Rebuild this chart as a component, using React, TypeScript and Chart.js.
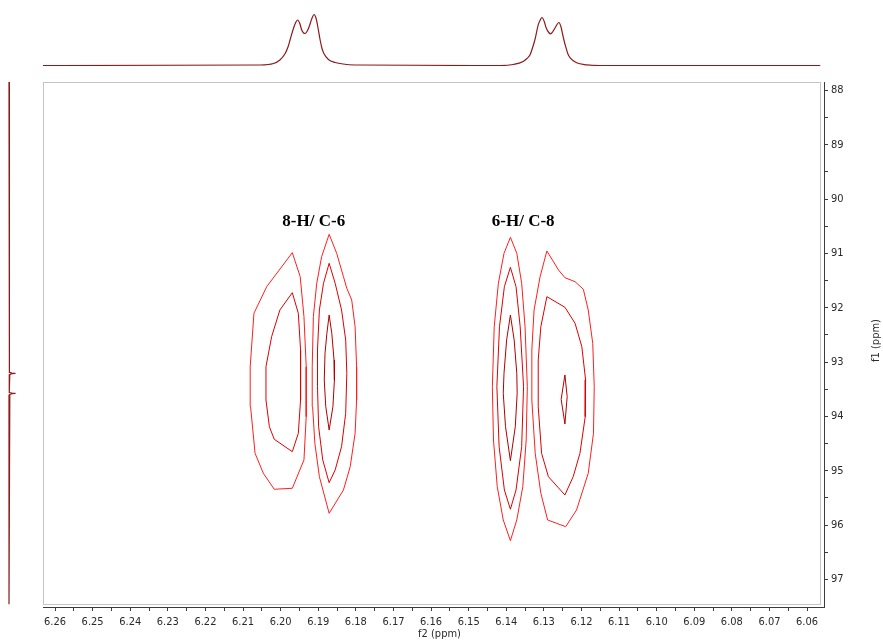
import React, { useEffect, useRef } from 'react';
import { Chart, registerables } from 'chart.js';

Chart.register(...registerables);

// ---- axis ranges (ppm) ----
const F2_MIN = 6.0555;
const F2_MAX = 6.2632;
const F1_MIN = 87.844;
const F1_MAX = 97.507;

// ---- tick labels ----
const xTickLabels = ['6.26', '6.25', '6.24', '6.23', '6.22', '6.21', '6.20', '6.19', '6.18', '6.17', '6.16', '6.15', '6.14', '6.13', '6.12', '6.11', '6.10', '6.09', '6.08', '6.07', '6.06'];
const yTickLabels = ['88', '89', '90', '91', '92', '93', '94', '95', '96', '97'];

// ---- axis titles ----
const xAxisTitle = 'f2 (ppm)';
const yAxisTitle = 'f1 (ppm)';

// ---- peak annotations ----
const annotationText = ['8-H/ C-6', '6-H/ C-8'];
const annotationF2 = [6.1912, 6.1355];
const annotationF1 = [90.42, 90.42];

// ---- 1H projection (top) ----
const topF2 = [6.2632, 6.2055, 6.2019, 6.2002, 6.1988, 6.198, 6.1975, 6.1966, 6.196, 6.1955, 6.1949, 6.1944, 6.1939, 6.1935, 6.193, 6.1924, 6.1917, 6.1911, 6.1906, 6.1902, 6.1895, 6.189, 6.1885, 6.1873, 6.1855, 6.1824, 6.1789,
  6.1416, 6.1381, 6.1355, 6.1345, 6.1337, 6.1329, 6.1323, 6.1315, 6.1309, 6.1305, 6.1299, 6.1294, 6.1287, 6.1282, 6.1276, 6.127, 6.1265, 6.126, 6.1254, 6.125, 6.1245, 6.1241, 6.1236, 6.123, 6.1213, 6.1186, 6.1151, 6.0565];
const topIntensity = [0, 0.5, 2, 5.5, 12, 19, 25.5, 37, 43, 45.5, 42, 35.5, 32.5, 32, 34, 39, 47, 51, 47.5, 40.5, 25.5, 17, 12, 6, 3, 1, 0.5,
  0, 1, 4, 7, 10.5, 19, 27, 40.7, 46, 48, 44, 37.7, 33, 31.7, 34, 37.7, 41, 43, 38, 31, 23, 17.7, 11.5, 7.7, 2.7, 0.7, 0, 0];

// ---- 13C projection (left) ----
const leftF1 = [87.844, 93.15, 93.19, 93.2, 93.206, 93.212, 93.225, 93.26, 93.52, 93.56, 93.57, 93.576, 93.582, 93.595, 93.63, 97.455];
const leftIntensity = [0, 0, 0.8, 3, 6.5, 3, 0.8, 0, 0, 0.8, 3, 6.5, 3, 0.8, 0, 0];

// ---- contours: 8-H / C-6 ----
const c1F2 = [6.1969, 6.1948, 6.1938, 6.1932, 6.1932, 6.1938, 6.1969, 6.2017, 6.2046, 6.2068, 6.208, 6.2081, 6.2071, 6.2037];
const c1F1 = [90.985, 91.427, 92.163, 93.084, 94.004, 94.801, 95.322, 95.34, 95.046, 94.678, 93.82, 93.084, 92.101, 91.611];
const c2F2 = [6.1969, 6.1953, 6.1947, 6.1947, 6.1953, 6.1969, 6.2017, 6.203, 6.2039, 6.2039, 6.2024, 6.2002];
const c2F1 = [91.722, 92.101, 92.776, 93.697, 94.31, 94.648, 94.42, 94.188, 93.697, 93.084, 92.532, 92.04];
const c3F2 = [6.1871, 6.1851, 6.1833, 6.1824, 6.1811, 6.1802, 6.1798, 6.1798, 6.1802, 6.1815, 6.1833, 6.1871, 6.1897, 6.1909, 6.1915, 6.1916, 6.1913, 6.1904, 6.1891];
const c3F1 = [90.647, 90.997, 91.427, 91.641, 91.856, 92.348, 93.084, 93.697, 94.31, 94.924, 95.353, 95.782, 95.108, 94.494, 93.82, 93.084, 92.163, 91.549, 91.059];
const c4F2 = [6.1871, 6.1855, 6.1838, 6.1827, 6.1824, 6.1827, 6.1838, 6.1855, 6.1871, 6.1888, 6.1899, 6.1902, 6.1902, 6.1897, 6.1886];
const c4F1 = [91.181, 91.549, 92.04, 92.592, 93.205, 93.941, 94.556, 94.985, 95.219, 94.801, 94.188, 93.452, 92.776, 92.04, 91.549];
const c5F2 = [6.1871, 6.1864, 6.1858, 6.1857, 6.1861, 6.1871, 6.188, 6.1884, 6.1882, 6.1877];
const c5F1 = [92.132, 92.469, 92.96, 93.329, 93.82, 94.249, 93.82, 93.329, 92.837, 92.469];

// ---- contours: 6-H / C-8 ----
const c6F2 = [6.1389, 6.1372, 6.1359, 6.135, 6.1344, 6.1347, 6.1356, 6.1372, 6.1389, 6.1408, 6.1424, 6.1434, 6.1437, 6.1432, 6.1421, 6.1406];
const c6F1 = [90.702, 90.997, 91.549, 92.348, 93.452, 94.433, 95.292, 95.905, 96.286, 95.905, 95.292, 94.433, 93.452, 92.348, 91.549, 90.997];
const c7F2 = [6.1389, 6.1374, 6.1363, 6.1354, 6.1359, 6.1374, 6.1389, 6.1405, 6.1419, 6.1425, 6.1418, 6.1405];
const c7F1 = [91.254, 91.611, 92.348, 93.452, 94.556, 95.353, 95.708, 95.353, 94.556, 93.452, 92.348, 91.611];
const c8F2 = [6.1389, 6.1379, 6.1372, 6.1371, 6.1376, 6.1389, 6.1402, 6.1408, 6.1406, 6.1399];
const c8F1 = [92.132, 92.592, 93.205, 93.573, 94.188, 94.814, 94.188, 93.573, 93.205, 92.592];
const c9F2 = [6.1292, 6.1261, 6.1244, 6.1217, 6.1195, 6.1182, 6.117, 6.1166, 6.1168, 6.1182, 6.1213, 6.1242, 6.129, 6.1308, 6.1323, 6.1332, 6.1332, 6.1326, 6.131];
const c9F1 = [90.954, 91.304, 91.446, 91.519, 91.659, 92.04, 92.653, 93.452, 94.31, 95.046, 95.721, 96.029, 95.905, 95.414, 94.678, 93.697, 92.776, 92.04, 91.427];
const c10F2 = [6.1292, 6.1244, 6.1217, 6.1199, 6.1189, 6.119, 6.1204, 6.1222, 6.1244, 6.1288, 6.1306, 6.1315, 6.1315, 6.1308];
const c10F1 = [91.795, 91.99, 92.285, 92.716, 93.329, 94.004, 94.678, 95.108, 95.445, 95.108, 94.678, 93.82, 92.96, 92.348];
const c11F2 = [6.1244, 6.1238, 6.1244, 6.1254];
const c11F1 = [93.236, 93.636, 94.138, 93.684];

const LEVEL_COLORS = ['#ff1e1e', '#dc0000', '#b00000'];
const contourTable = [
  { f2: c1F2, f1: c1F1, level: 0 },
  { f2: c2F2, f1: c2F1, level: 1 },
  { f2: c3F2, f1: c3F1, level: 0 },
  { f2: c4F2, f1: c4F1, level: 1 },
  { f2: c5F2, f1: c5F1, level: 2 },
  { f2: c6F2, f1: c6F1, level: 0 },
  { f2: c7F2, f1: c7F1, level: 1 },
  { f2: c8F2, f1: c8F1, level: 2 },
  { f2: c9F2, f1: c9F1, level: 0 },
  { f2: c10F2, f1: c10F1, level: 1 },
  { f2: c11F2, f1: c11F1, level: 2 },
];

const SPEC_COLOR = '#8b1a1a';
const AXIS_COLOR = '#3c3c3c';
const TEXT_COLOR = '#2a2a2a';
const TICK_FONT_FAMILY = "'DejaVu Sans Condensed', 'Liberation Sans', sans-serif";

function closedLoop(f2: number[], f1: number[]) {
  const pts = f2.map((x, i) => ({ x, y: f1[i] }));
  pts.push({ x: f2[0], y: f1[0] });
  return pts;
}

const overlayPlugin = {
  id: 'nmrOverlay',
  beforeDatasetsDraw(chart: any) {
    const { ctx, chartArea } = chart;
    ctx.save();
    ctx.strokeStyle = '#c4c4c4';
    ctx.lineWidth = 1;
    ctx.strokeRect(chartArea.left + 0.5, chartArea.top + 0.5, chartArea.right - 4 - chartArea.left, chartArea.bottom - 3 - chartArea.top);
    ctx.restore();
  },
  afterDraw(chart: any) {
    const { ctx, chartArea, scales } = chart;
    ctx.save();
    ctx.fillStyle = '#000';
    ctx.font = "bold 17px 'Liberation Serif', 'Times New Roman', serif";
    ctx.textAlign = 'center';
    ctx.textBaseline = 'middle';
    annotationText.forEach((t, i) => {
      ctx.fillText(t, scales.x.getPixelForValue(annotationF2[i]), scales.y.getPixelForValue(annotationF1[i]));
    });
    ctx.fillStyle = TEXT_COLOR;
    ctx.font = `11px ${TICK_FONT_FAMILY}`;
    // f2 axis title
    ctx.fillText(xAxisTitle, (chartArea.left + chartArea.right) / 2 + 6, chart.height - 8);
    // f1 axis title (reads bottom-to-top)
    ctx.translate(chart.width - 7, (chartArea.top + chartArea.bottom) / 2 - 4);
    ctx.rotate(-Math.PI / 2);
    ctx.fillText(yAxisTitle, 0, 0);
    ctx.restore();
  },
};

export default function App() {
  const mainRef = useRef<HTMLCanvasElement>(null);
  const topRef = useRef<HTMLCanvasElement>(null);
  const leftRef = useRef<HTMLCanvasElement>(null);

  useEffect(() => {
    const charts: Chart[] = [];
    const tickFont = { family: TICK_FONT_FAMILY, size: 11 };

    if (mainRef.current) {
      charts.push(new Chart(mainRef.current, {
        type: 'scatter',
        data: {
          datasets: contourTable.map((c) => ({
            data: closedLoop(c.f2, c.f1),
            showLine: true,
            borderColor: LEVEL_COLORS[c.level],
            borderWidth: 1,
            pointRadius: 0,
            fill: false,
            tension: 0,
          })),
        },
        options: {
          animation: false,
          responsive: false,
          devicePixelRatio: 1,
          events: [],
          layout: { padding: { left: 43, top: 82, right: 0, bottom: 0 } },
          plugins: { legend: { display: false }, tooltip: { enabled: false } },
          scales: {
            x: {
              type: 'linear',
              position: 'bottom',
              reverse: true,
              min: F2_MIN,
              max: F2_MAX,
              afterFit: (s: any) => { s.height = 35; },
              border: { display: true, color: AXIS_COLOR, width: 1 },
              grid: { display: true, drawOnChartArea: false, drawTicks: true, tickLength: 4, color: AXIS_COLOR },
              ticks: {
                stepSize: 0.005,
                includeBounds: false,
                autoSkip: false,
                maxRotation: 0,
                minRotation: 0,
                padding: 5,
                color: TEXT_COLOR,
                font: tickFont,
                callback: (v: any) => {
                  const n = Number(v);
                  const s = n.toFixed(2);
                  if (Math.abs(n - Number(s)) < 1e-7 && xTickLabels.includes(s)) return s;
                  return '';
                },
              },
              title: { display: false },
            },
            y: {
              type: 'linear',
              position: 'right',
              reverse: true,
              min: F1_MIN,
              max: F1_MAX,
              afterFit: (s: any) => { s.width = 59; },
              border: { display: true, color: AXIS_COLOR, width: 1 },
              grid: { display: true, drawOnChartArea: false, drawTicks: true, tickLength: 4, color: AXIS_COLOR },
              ticks: {
                stepSize: 0.5,
                includeBounds: false,
                autoSkip: false,
                padding: 3,
                color: TEXT_COLOR,
                font: tickFont,
                callback: (v: any) => {
                  const n = Number(v);
                  if (n > 97.45) return null;
                  const s = String(Math.round(n));
                  if (Math.abs(n - Math.round(n)) < 1e-7 && yTickLabels.includes(s)) return s;
                  return '';
                },
              },
            },
          },
        },
        plugins: [overlayPlugin],
      } as any));
    }

    if (topRef.current) {
      charts.push(new Chart(topRef.current, {
        type: 'scatter',
        data: {
          datasets: [{
            data: topF2.map((x, i) => ({ x, y: topIntensity[i] })),
            showLine: true,
            borderColor: SPEC_COLOR,
            borderWidth: 1.2,
            pointRadius: 0,
            fill: false,
            cubicInterpolationMode: 'monotone',
          }],
        },
        options: {
          animation: false,
          responsive: false,
          devicePixelRatio: 1,
          events: [],
          layout: { padding: { left: 43, right: 59, top: 0, bottom: 14 } },
          plugins: { legend: { display: false }, tooltip: { enabled: false } },
          scales: {
            x: { type: 'linear', display: false, reverse: true, min: F2_MIN, max: F2_MAX },
            y: { type: 'linear', display: false, min: -0.5, max: 65.5 },
          },
        },
      } as any));
    }

    if (leftRef.current) {
      charts.push(new Chart(leftRef.current, {
        type: 'scatter',
        data: {
          datasets: [{
            data: leftF1.map((y, i) => ({ x: leftIntensity[i], y })),
            showLine: true,
            borderColor: SPEC_COLOR,
            borderWidth: 1.2,
            pointRadius: 0,
            fill: false,
            tension: 0,
          }],
        },
        options: {
          animation: false,
          responsive: false,
          devicePixelRatio: 1,
          events: [],
          layout: { padding: { left: 0, right: 0, top: 82, bottom: 35 } },
          plugins: { legend: { display: false }, tooltip: { enabled: false } },
          scales: {
            x: { type: 'linear', display: false, min: -9, max: 31 },
            y: { type: 'linear', display: false, reverse: true, min: F1_MIN, max: F1_MAX },
          },
        },
      } as any));
    }

    return () => { charts.forEach((c) => c.destroy()); };
  }, []);

  return (
    <div style={{ position: 'absolute', left: 0, top: 0, width: 883, height: 642, background: '#ffffff' }}>
      <canvas ref={mainRef} width={883} height={642} style={{ position: 'absolute', left: 0, top: 0, width: 883, height: 642 }} />
      <canvas ref={topRef} width={883} height={80} style={{ position: 'absolute', left: 0, top: 0, width: 883, height: 80 }} />
      <canvas ref={leftRef} width={40} height={642} style={{ position: 'absolute', left: 0, top: 0, width: 40, height: 642 }} />
    </div>
  );
}
